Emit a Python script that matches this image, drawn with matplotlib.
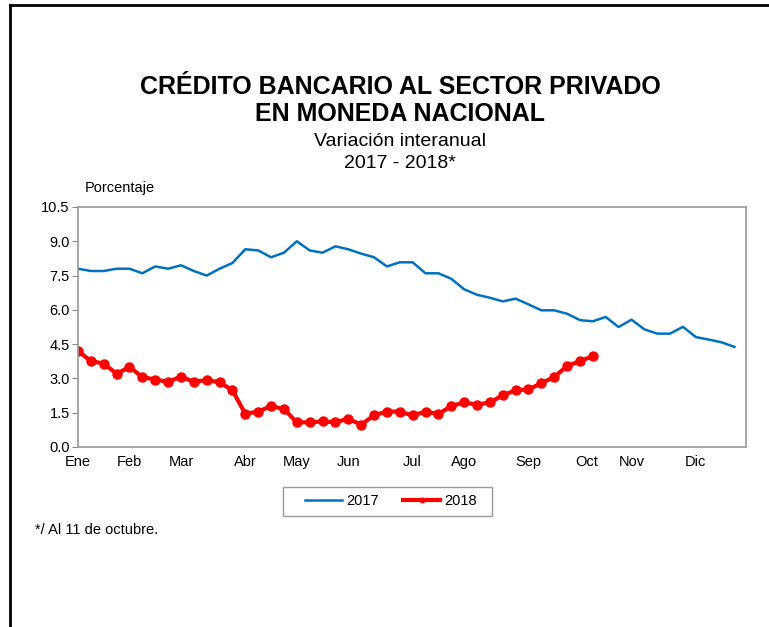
import matplotlib
matplotlib.use("Agg")
import matplotlib.pyplot as plt
from matplotlib.lines import Line2D
from matplotlib.patches import Rectangle

plt.rcParams['font.family'] = ['Liberation Sans', 'DejaVu Sans']

months = ["Ene", "Feb", "Mar", "Abr", "May", "Jun", "Jul", "Ago", "Sep", "Oct", "Nov", "Dic"]
month_weeks = [0, 4, 8, 13, 17, 21, 26, 30, 35, 39.5, 43, 48]

y2017 = [7.8, 7.7, 7.7, 7.8, 7.8, 7.6, 7.9, 7.8, 7.95, 7.7, 7.5, 7.8, 8.05, 8.65,
         8.6, 8.3, 8.5, 9.0, 8.6, 8.5, 8.78, 8.65, 8.46, 8.3, 7.9, 8.08, 8.08, 7.6,
         7.6, 7.36, 6.9, 6.66, 6.53, 6.37, 6.49, 6.24, 5.98, 5.98, 5.83, 5.55, 5.5,
         5.69, 5.25, 5.57, 5.15, 4.96, 4.96, 5.26, 4.81, 4.7, 4.58, 4.38]
y2018 = [4.2, 3.76, 3.65, 3.2, 3.5, 3.06, 2.95, 2.85, 3.08, 2.85, 2.93, 2.83, 2.48,
         1.45, 1.55, 1.79, 1.66, 1.08, 1.08, 1.12, 1.08, 1.24, 0.97, 1.39, 1.55, 1.55,
         1.38, 1.55, 1.44, 1.79, 1.95, 1.85, 1.95, 2.26, 2.48, 2.52, 2.79, 3.06, 3.54,
         3.76, 3.97]
yticks = [0.0, 1.5, 3.0, 4.5, 6.0, 7.5, 9.0, 10.5]

W, H = 769, 627
fig = plt.figure(figsize=(W / 100, H / 100), dpi=100)
ax = fig.add_axes([78/W, 1 - 447/H, (746 - 78)/W, (447 - 207)/H])

ax.plot(range(len(y2017)), y2017, color="#0070C0", lw=1.8, label="2017")
ax.plot(range(len(y2018)), y2018, color="#FF0000", lw=3.0, marker="o", ms=6.5,
        label="2018")

ax.set_xlim(0, 51.9)
ax.set_ylim(0, 10.5)
ax.set_yticks(yticks)
ax.set_yticklabels([f"{v:.1f}" for v in yticks], fontsize=10.5)
ax.set_xticks(month_weeks)
ax.set_xticklabels(months, fontsize=10.5)
ax.tick_params(axis="x", length=0, pad=6)
ax.tick_params(axis="y", length=4, color="#888888", pad=2)
for s in ax.spines.values():
    s.set_color("#999999")
    s.set_linewidth(1.2)

leg = fig.legend(loc="center", bbox_to_anchor=(391/W, 1 - 501/H), ncol=2,
                 frameon=False, fontsize=10.5, handlelength=2.5,
                 handletextpad=0.3, columnspacing=1.7, borderpad=0.5, markerscale=0.5,
                 borderaxespad=0)
fig.add_artist(Rectangle((283/W, 1 - 516/H), (492 - 283)/W, (516 - 487)/H,
                         transform=fig.transFigure, fill=False,
                         edgecolor="#999999", lw=1.0))

fig.text(400/W, 1 - 87/H, "CRÉDITO BANCARIO AL SECTOR PRIVADO", ha="center", va="center",
         fontsize=18, fontweight="bold")
fig.text(400/W, 1 - 114/H, "EN MONEDA NACIONAL", ha="center", va="center",
         fontsize=18, fontweight="bold")
fig.text(400/W, 1 - 142/H, "Variación interanual", ha="center", va="center", fontsize=14)
fig.text(400/W, 1 - 164/H, "2017 - 2018*", ha="center", va="center", fontsize=14)
fig.text(85/W, 1 - 188/H, "Porcentaje", ha="left", va="center", fontsize=10.5)
fig.text(35/W, 1 - 530/H, "*/ Al 11 de octubre.", ha="left", va="center", fontsize=10.5)

fig.add_artist(Line2D([10/W, 1], [1 - 5/H, 1 - 5/H], transform=fig.transFigure,
                      color="black", lw=2))
fig.add_artist(Line2D([10/W, 10/W], [0, 1 - 5/H], transform=fig.transFigure,
                      color="black", lw=2))

fig.savefig("out.png", dpi=100)
